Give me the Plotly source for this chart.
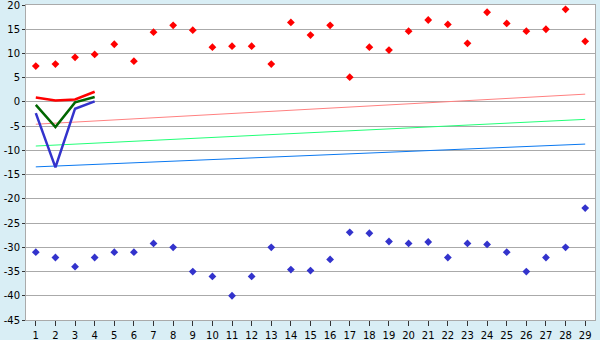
import plotly.graph_objects as go

x_vals = list(range(1, 30))
red_pts = [7.4, 7.8, 9.2, 9.8, 11.9, 8.4, 14.4, 15.8, 14.8, 11.3, 11.5, 11.5, 7.8, 16.4,
           13.8, 15.8, 5.1, 11.3, 10.7, 14.6, 16.9, 16.0, 12.1, 18.5, 16.2, 14.6, 15.0, 19.1, 12.5]
blue_pts = [-31.0, -32.1, -34.0, -32.1, -31.0, -31.0, -29.2, -30.0, -35.0, -36.0, -40.0, -36.0,
            -30.0, -34.6, -34.8, -32.5, -26.9, -27.1, -28.8, -29.2, -28.9, -32.1, -29.2, -29.4,
            -31.0, -35.0, -32.1, -30.0, -21.9]
short_x = [1, 2, 3, 4]
red_line = [0.9, 0.3, 0.5, 2.1]
green_line = [-0.6, -5.2, -0.1, 1.0]
blue_line = [-2.3, -13.5, -1.4, 0.1]
trend_x = [1, 29]
trend_red = [-4.6, 1.6]
trend_green = [-9.1, -3.6]
trend_blue = [-13.4, -8.7]
y_ticks = list(range(-45, 21, 5))
y_labels = [str(v) if v >= 0 else "-" + str(-v) for v in y_ticks]

fig = go.Figure()
fig.add_trace(go.Scatter(x=trend_x, y=trend_red, mode="lines", line=dict(color="#FF8080", width=1)))
fig.add_trace(go.Scatter(x=trend_x, y=trend_green, mode="lines", line=dict(color="#22FF77", width=1)))
fig.add_trace(go.Scatter(x=trend_x, y=trend_blue, mode="lines", line=dict(color="#0A78F0", width=1)))
fig.add_trace(go.Scatter(x=short_x, y=red_line, mode="lines", line=dict(color="#FF0000", width=2.5)))
fig.add_trace(go.Scatter(x=short_x, y=green_line, mode="lines", line=dict(color="#006600", width=2.5)))
fig.add_trace(go.Scatter(x=short_x, y=blue_line, mode="lines", line=dict(color="#3333CC", width=2.5)))
fig.add_trace(go.Scatter(x=x_vals, y=red_pts, mode="markers",
                         marker=dict(symbol="diamond", size=6, color="#FF0000")))
fig.add_trace(go.Scatter(x=x_vals, y=blue_pts, mode="markers",
                         marker=dict(symbol="diamond", size=6, color="#3333CC")))

fig.update_layout(
    width=600, height=340,
    margin=dict(l=26, r=5, t=5, b=20, autoexpand=False),
    paper_bgcolor="#D9EEF5", plot_bgcolor="#FFFFFF",
    showlegend=False,
    font=dict(family="DejaVu Sans", size=10, color="#000000"),
)
fig.update_xaxes(range=[0.5, 29.5], tickvals=x_vals, showgrid=False, zeroline=False,
                 showline=True, linecolor="#AAAAAA", linewidth=1, mirror=True, automargin=False,
                 ticklabeloverflow="allow", ticklabelstandoff=1,
                 ticks="outside", ticklen=5, tickcolor="#333333")
fig.update_yaxes(range=[-45, 20], tickvals=y_ticks, ticktext=y_labels, showgrid=True,
                 gridcolor="#AAAAAA", gridwidth=1, zeroline=False, automargin=False,
                 ticklabeloverflow="allow",
                 showline=True, linecolor="#AAAAAA", linewidth=1, mirror=True,
                 ticks="outside", ticklen=3, tickcolor="#333333")
fig.write_html("out.html")
